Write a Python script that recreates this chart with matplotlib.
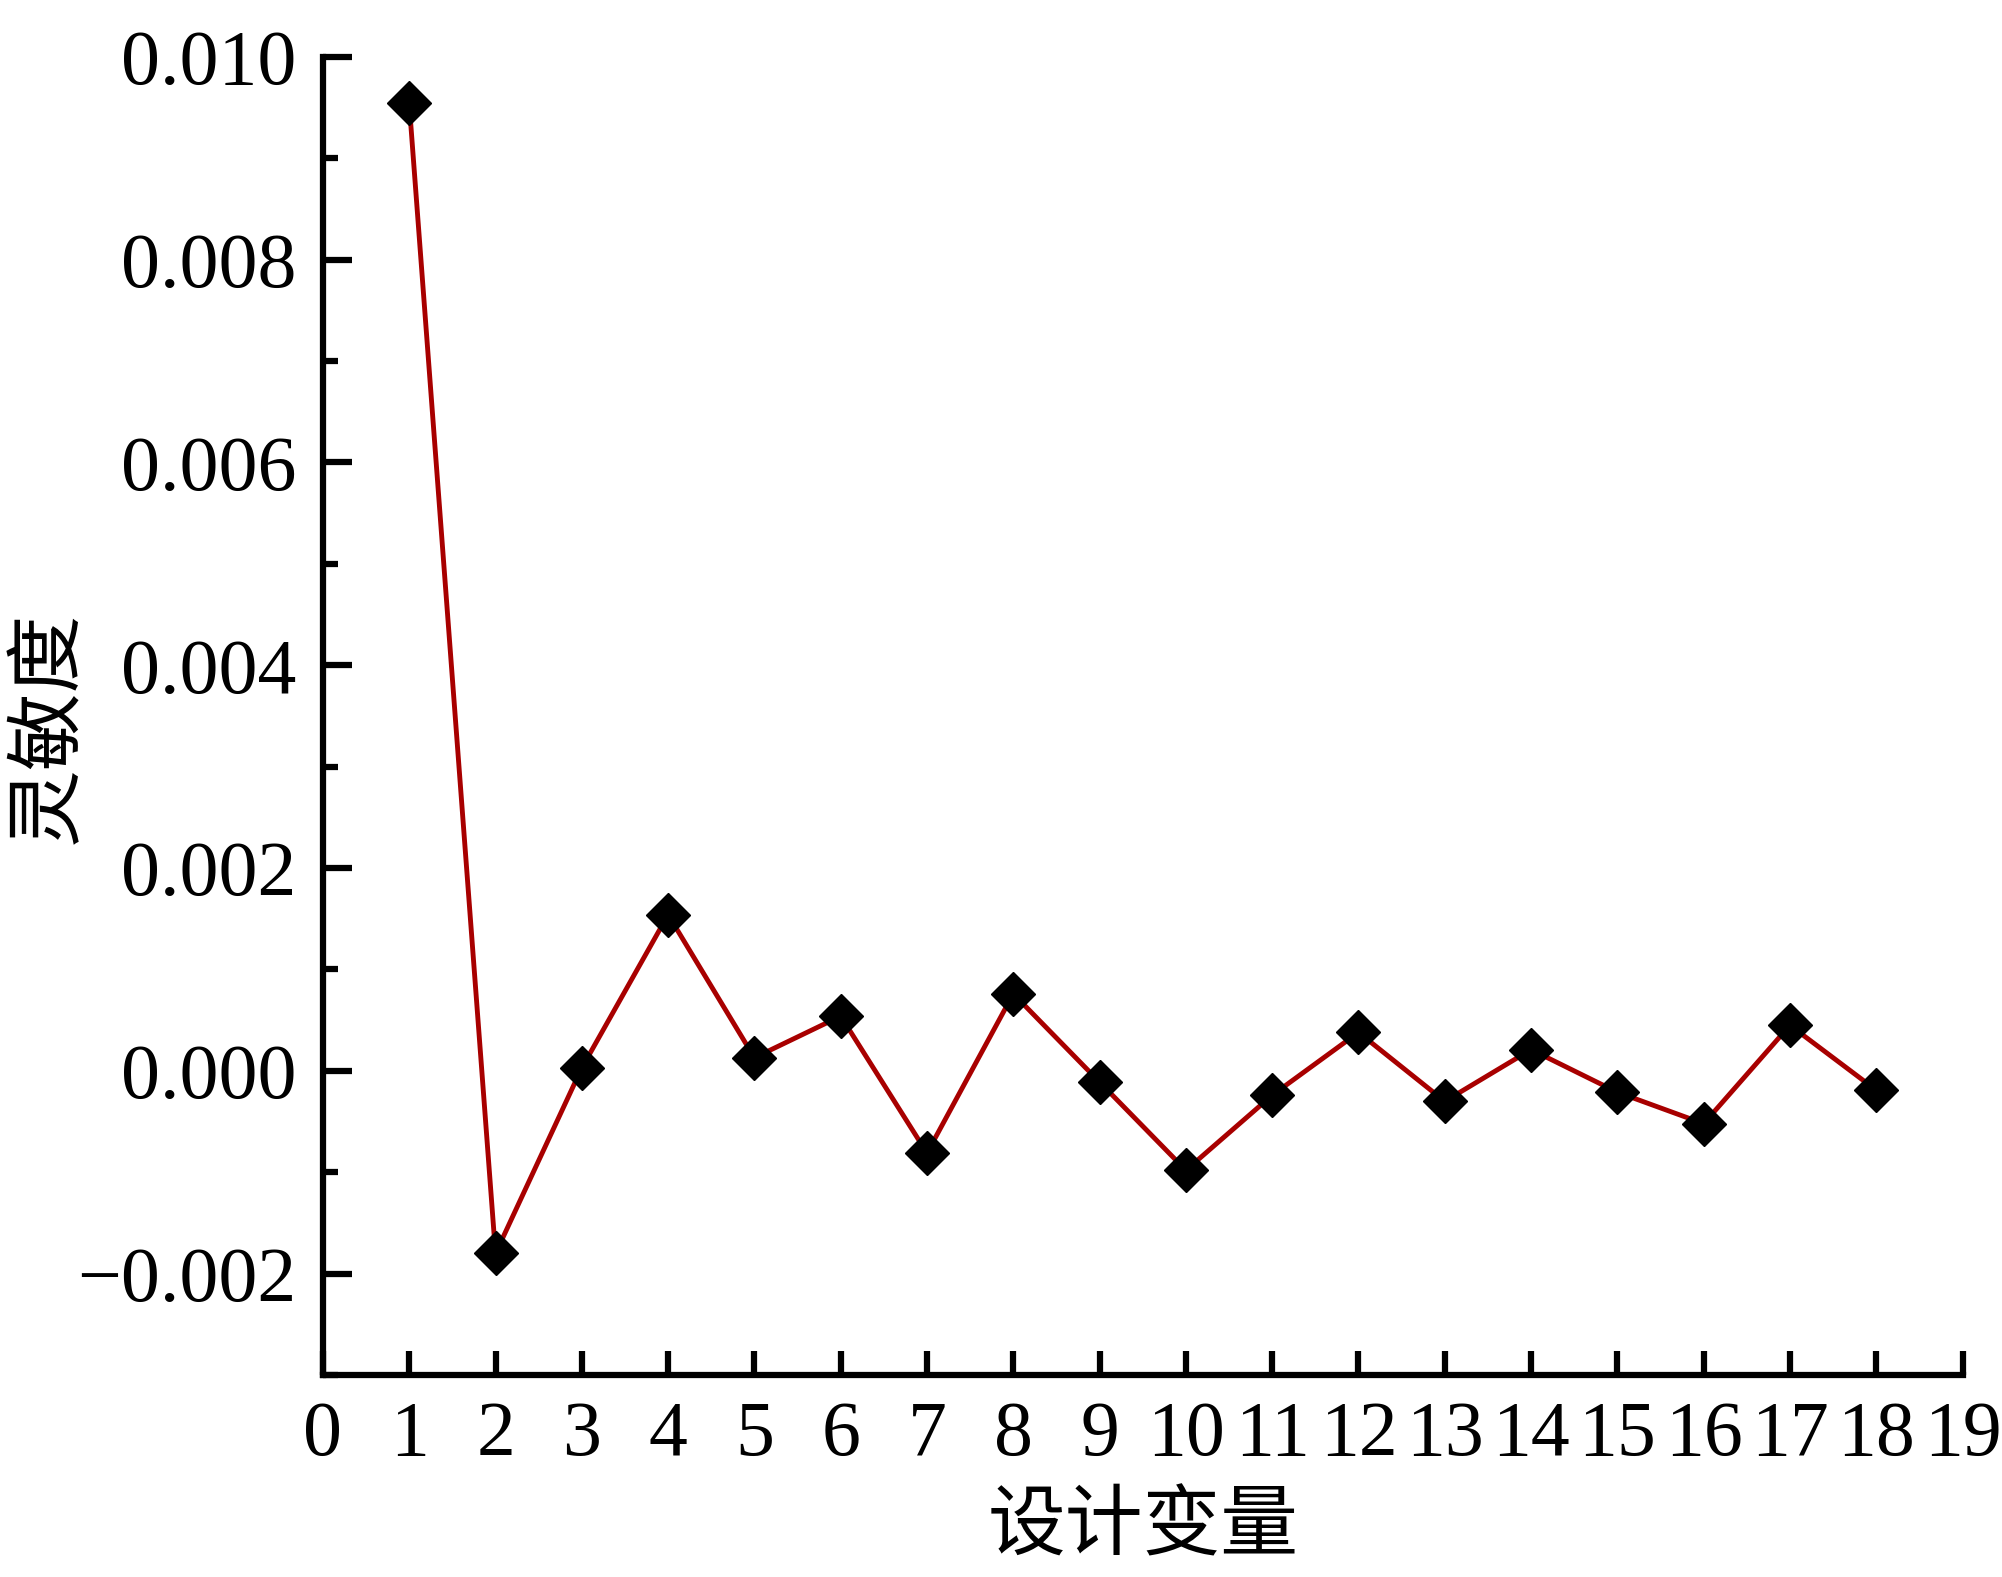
import numpy as np
import matplotlib
matplotlib.use('Agg')
import matplotlib.pyplot as plt
from matplotlib.ticker import MultipleLocator, FuncFormatter

# 设计变量编号与灵敏度
variables = [1, 2, 3, 4, 5, 6, 7, 8, 9, 10, 11, 12, 13, 14, 15, 16, 17, 18]
sensitivity = [0.00954, -0.00180, 0.00003, 0.00154, 0.00013, 0.00054,
               -0.00081, 0.00076, -0.00011, -0.00098, -0.00024, 0.00038,
               -0.00030, 0.00021, -0.00021, -0.00052, 0.00045, -0.00019]

x_ticks = list(range(0, 20))
y_ticks = [-0.002, 0.000, 0.002, 0.004, 0.006, 0.008, 0.010]

plt.rcParams['font.family'] = ['Liberation Serif', 'Noto Sans CJK SC', 'DejaVu Sans']

fig = plt.figure(figsize=(20.02, 15.77), dpi=100)
ax = fig.add_axes([0.1613, 0.128, 0.819, 0.836])

ax.plot(variables, sensitivity, color='#a80000', lw=3.5, marker='D',
        markersize=22, markerfacecolor='black', markeredgecolor='black')

ax.set_xlim(0, 19)
ax.set_ylim(-0.003, 0.010)
ax.set_xticks(x_ticks)
ax.set_yticks(y_ticks)
ax.yaxis.set_minor_locator(MultipleLocator(0.001))
ax.yaxis.set_major_formatter(FuncFormatter(lambda v, p: ('%.3f' % v).replace('-', '\u2212')))

for side in ['top', 'right']:
    ax.spines[side].set_visible(False)
for side in ['left', 'bottom']:
    ax.spines[side].set_linewidth(4.5)

ax.tick_params(axis='both', which='major', direction='in', width=4.5,
               labelsize=56)
ax.tick_params(axis='y', which='major', length=21, pad=19)
ax.tick_params(axis='x', which='major', length=17, pad=18)
ax.tick_params(axis='y', which='minor', direction='in', length=11, width=4.5)

ax.set_xlabel('设计变量', fontsize=56, family=['Noto Sans CJK SC'], labelpad=12)
ax.set_ylabel('灵敏度', fontsize=56, family=['Noto Sans CJK SC'])
ax.yaxis.set_label_coords(-0.143, 0.491)

fig.savefig('out.png', dpi=100)
